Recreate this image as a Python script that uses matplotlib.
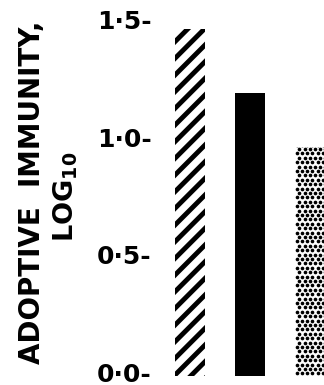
import matplotlib
matplotlib.use("Agg")
import matplotlib.pyplot as plt
import numpy as np

# adoptive immunity (log10) for the three groups
groups = ["A", "B", "C"]
immunity = [1.46, 1.19, 0.96]
styles = ["hatch", "solid", "dots"]

tick_vals = [0.0, 0.5, 1.0, 1.5]
tick_text = ["0\u00b70-", "0\u00b75-", "1\u00b70-", "1\u00b75-"]

W, H = 324, 385
fig = plt.figure(figsize=(W / 100, H / 100), dpi=100)
ax = fig.add_axes([160 / W, 0, 164 / W, 1])
ax.set_xlim(-0.5, -0.5 + 164 / 60)
ax.set_ylim(-13 / 234.7, 372 / 234.7)

bw = 0.5
base = -0.015
for i, (v, st) in enumerate(zip(immunity, styles)):
    if st == "hatch":
        with plt.rc_context({"hatch.linewidth": 3.5, "hatch.color": "black"}):
            ax.bar(i, v - base, bottom=base, width=bw, color="white",
                   edgecolor="black", linewidth=0, hatch="//")
    elif st == "solid":
        ax.bar(i, v - base, bottom=base, width=bw, color="black", linewidth=0)
    else:
        bars = ax.bar(i, v - base, bottom=base, width=bw, color="white", linewidth=0)
        # staggered dot screen clipped to the bar
        dx, dy = 5.2 / 60, 4.4 / 234.7
        rows = np.arange(base + dy / 2, v + dy, dy)
        xs, ys = [], []
        for k, yy in enumerate(rows):
            off = dx / 2 if k % 2 else 0
            cols = np.arange(i - bw / 2 + off + dx / 3, i + bw / 2 + dx, dx)
            xs.extend(cols)
            ys.extend([yy] * len(cols))
        dots = ax.scatter(xs, ys, s=7, color="black", linewidths=0)
        dots.set_clip_path(bars[0])

ax.set_yticks(tick_vals)
ax.set_yticklabels(tick_text, fontsize=18, fontweight="bold")
ax.tick_params(axis="y", length=0, pad=6)
ax.set_xticks([])
for s in ax.spines.values():
    s.set_visible(False)

fig.text(32 / W, 1 - 192 / H, "ADOPTIVE  IMMUNITY,", rotation=90,
         ha="center", va="center", fontsize=20, fontweight="bold")
fig.text(66 / W, 1 - 197 / H, "LOG$_{\\mathbf{10}}$", rotation=90,
         ha="center", va="center", fontsize=19.5, fontweight="bold")

fig.savefig("out.png", dpi=100)
